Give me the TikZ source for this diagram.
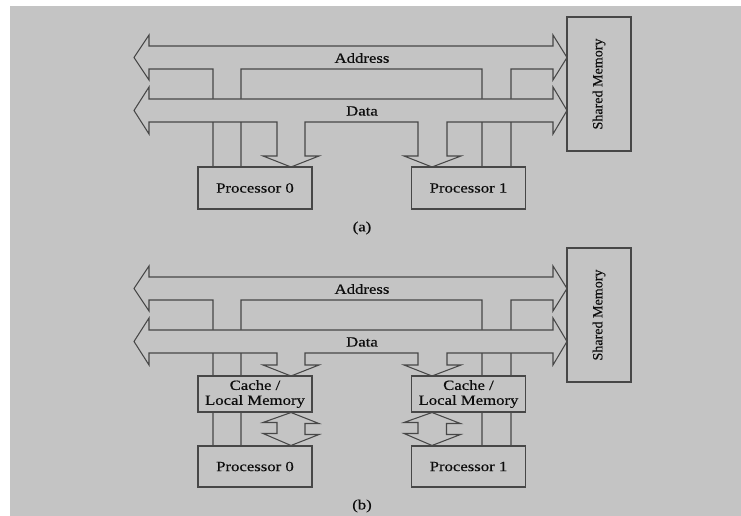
\documentclass[tikz,border=0pt]{standalone}
\usepackage{fontspec}
\setmainfont{Liberation Serif}[FakeBold=0.4]
\newfontfamily\widefont{Liberation Serif}[FakeStretch=1.19, FakeBold=0.4]
\usetikzlibrary{calc}
\colorlet{sheetcolor}{black!23}
\colorlet{linecolor}{black!72}
\colorlet{textcolor}{black!95}
\tikzset{
  bus/.style={
    fill=sheetcolor,
    draw=linecolor,
    line width=0.6pt,
    line join=miter
  },
  unitbox/.style={
    fill=sheetcolor,
    draw=linecolor,
    line width=0.6pt,
    text=textcolor,
    inner sep=0pt,
    align=center,
    minimum width=2.28cm
  },
  buslabel/.style={text=textcolor, inner sep=1pt}
}

\begin{document}
\begin{tikzpicture}[x=0.02cm, y=-0.02cm,
  font=\widefont\fontsize{8}{8.5}\selectfont]

  % Sheet.
  \useasboundingbox (0,0) rectangle (741,516);
  \fill[sheetcolor] (10,6) rectangle (741,516);

  % ---------------- (a) no local caches ----------------
  \node[unitbox, rotate=90, minimum width=2.68cm, minimum height=1.28cm,
    font=\rmfamily\fontsize{8}{9}\selectfont] (mema) at (599,84) {Shared Memory};

  % Address bus with its two drops.
  \draw[bus] (134,57.5) -- (149,35) -- (149,46) -- (553,46) -- (553,35)
    -- (567,57.5) -- (553,80) -- (553,69) -- (511,69) -- (511,167)
    -- (482,167) -- (482,69) -- (241,69) -- (241,167) -- (213,167)
    -- (213,69) -- (149,69) -- (149,80) -- cycle;

  % Data bus with its two drops.
  \draw[bus] (134,110.5) -- (149,87) -- (149,99) -- (553,99) -- (553,87)
    -- (567,110.5) -- (553,134) -- (553,122) -- (447,122) -- (447,156)
    -- (461,156) -- (432,167) -- (404,156) -- (418,156) -- (418,122)
    -- (305,122) -- (305,156) -- (319,156) -- (291,167) -- (263,156)
    -- (277,156) -- (277,122) -- (149,122) -- (149,134) -- cycle;

  \node[unitbox, minimum height=0.84cm] (proc0a) at (255,188) {Processor 0};
  \node[unitbox, minimum height=0.84cm] (proc1a) at (468.5,188) {Processor 1};

  \node[buslabel] (addra) at (362,58) {Address};
  \node[buslabel] (dataa) at (362,111) {Data};
  \node[buslabel] (capa) at (362,228) {(a)};

  % ---------------- (b) local memory / caches ----------------
  \node[unitbox, rotate=90, minimum width=2.68cm, minimum height=1.28cm,
    font=\rmfamily\fontsize{8}{9}\selectfont] (memb) at (599,315) {Shared Memory};

  \draw[bus] (134,288.5) -- (149,266) -- (149,277) -- (553,277) -- (553,266)
    -- (567,288.5) -- (553,311) -- (553,300) -- (511,300) -- (511,446)
    -- (482,446) -- (482,300) -- (241,300) -- (241,446) -- (213,446)
    -- (213,300) -- (149,300) -- (149,311) -- cycle;

  \draw[bus] (134,341.5) -- (149,318) -- (149,330) -- (553,330) -- (553,318)
    -- (567,341.5) -- (553,365) -- (553,353) -- (447,353) -- (447,365)
    -- (461,365) -- (432,376) -- (404,365) -- (418,365) -- (418,353)
    -- (305,353) -- (305,365) -- (319,365) -- (291,376) -- (263,365)
    -- (277,365) -- (277,353) -- (149,353) -- (149,365) -- cycle;

  \node[unitbox, minimum height=0.72cm] (cache0) at (255,394)
    {Cache /\\Local Memory};
  \node[unitbox, minimum height=0.72cm] (cache1) at (468.5,394)
    {Cache /\\Local Memory};
  \node[unitbox, minimum height=0.82cm] (proc0b) at (255,466.5) {Processor 0};
  \node[unitbox, minimum height=0.82cm] (proc1b) at (468.5,466.5) {Processor 1};

  % Two-way links between cache and processor.
  \draw[bus] ($(cache0.south)+(36,0)$) -- ++(28,11) -- ++(-14,0) -- ++(0,11)
    -- ++(14,0) -- ($(proc0b.north)+(36,0)$) -- ++(-28,-12) -- ++(14,0)
    -- ++(0,-11) -- ++(-14,0) -- cycle;
  \draw[bus] ($(cache1.south)+(-36.5,0)$) -- ++(28.5,11) -- ++(-14,0) -- ++(0,11)
    -- ++(14,0) -- ($(proc1b.north)+(-36.5,0)$) -- ++(-28,-12) -- ++(14,0)
    -- ++(0,-11) -- ++(-14,0) -- cycle;

  \node[buslabel] (addrb) at (362,289) {Address};
  \node[buslabel] (datab) at (362,342) {Data};
  \node[buslabel] (capb) at (362,506) {(b)};

\end{tikzpicture}
\end{document}
